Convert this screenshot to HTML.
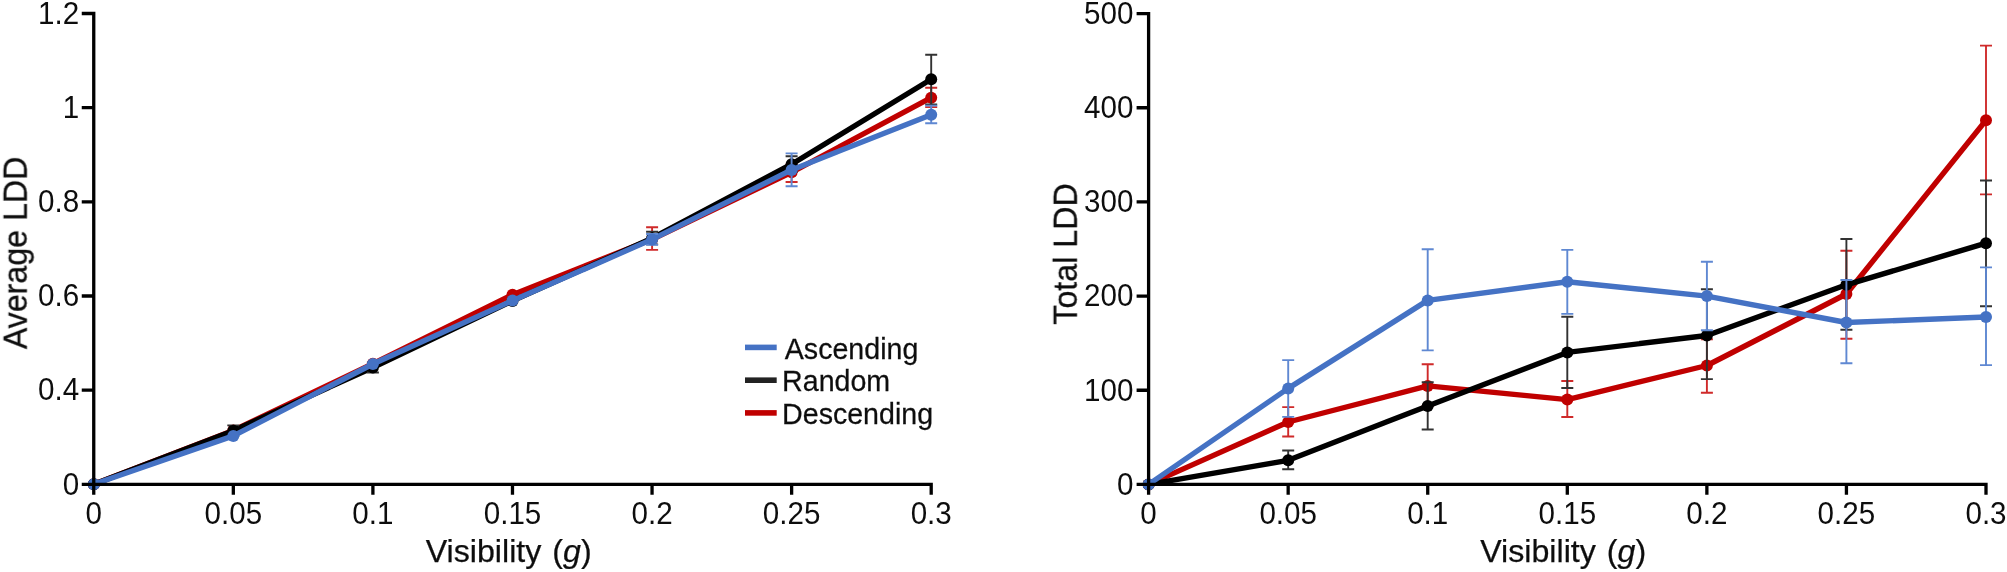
<!DOCTYPE html>
<html lang="en"><head><meta charset="utf-8"><title>LDD vs Visibility</title>
<style>
html,body{margin:0;padding:0;background:#fff;}
body{width:2007px;height:572px;overflow:hidden;}
svg{display:block;font-family:"Liberation Sans",Arial,Helvetica,sans-serif;fill:#111;}
text{stroke:#111;stroke-width:0.25px;}
text.tk{stroke:none;}
</style></head><body>
<svg width="2007" height="572" viewBox="0 0 2007 572">
<defs><filter id="soft" filterUnits="userSpaceOnUse" x="0" y="0" width="2007" height="572"><feGaussianBlur stdDeviation="0.5"/></filter></defs>
<rect width="2007" height="572" fill="#fff"/>
<g filter="url(#soft)">
<path d="M93.8 484.3 L233.3 430.4 L372.9 363.7 L512.5 294.7 L652.1 239.2 L791.6 172.3 L931.2 97.7" fill="none" stroke="#C00000" stroke-width="5.4" stroke-linejoin="round" stroke-linecap="round"/>
<circle cx="93.8" cy="484.3" r="6.0" fill="#C00000"/>
<circle cx="233.3" cy="430.4" r="6.0" fill="#C00000"/>
<circle cx="372.9" cy="363.7" r="6.0" fill="#C00000"/>
<circle cx="512.5" cy="294.7" r="6.0" fill="#C00000"/>
<path d="M652.1 227.3V249.9M646.1 227.3H658.1M646.1 249.9H658.1" fill="none" stroke="#cf2a2a" stroke-width="1.9"/>
<circle cx="652.1" cy="239.2" r="6.0" fill="#C00000"/>
<path d="M791.6 164.4V182.0M785.6 164.4H797.6M785.6 182.0H797.6" fill="none" stroke="#cf2a2a" stroke-width="1.9"/>
<circle cx="791.6" cy="172.3" r="6.0" fill="#C00000"/>
<path d="M931.2 87.8V107.1M925.2 87.8H937.2M925.2 107.1H937.2" fill="none" stroke="#cf2a2a" stroke-width="1.9"/>
<circle cx="931.2" cy="97.7" r="6.0" fill="#C00000"/>
<path d="M93.8 484.3 L233.3 430.7 L372.9 367.5 L512.5 300.9 L652.1 238.2 L791.6 164.2 L931.2 79.3" fill="none" stroke="#000000" stroke-width="5.4" stroke-linejoin="round" stroke-linecap="round"/>
<circle cx="93.8" cy="484.3" r="6.0" fill="#000000"/>
<path d="M233.3 425.4V436.0M227.3 425.4H239.3M227.3 436.0H239.3" fill="none" stroke="#333333" stroke-width="1.9"/>
<circle cx="233.3" cy="430.7" r="6.0" fill="#000000"/>
<path d="M372.9 362.6V372.5M366.9 362.6H378.9M366.9 372.5H378.9" fill="none" stroke="#333333" stroke-width="1.9"/>
<circle cx="372.9" cy="367.5" r="6.0" fill="#000000"/>
<circle cx="512.5" cy="300.9" r="6.0" fill="#000000"/>
<path d="M652.1 231.8V244.4M646.1 231.8H658.1M646.1 244.4H658.1" fill="none" stroke="#333333" stroke-width="1.9"/>
<circle cx="652.1" cy="238.2" r="6.0" fill="#000000"/>
<path d="M791.6 156.3V172.0M785.6 156.3H797.6M785.6 172.0H797.6" fill="none" stroke="#333333" stroke-width="1.9"/>
<circle cx="791.6" cy="164.2" r="6.0" fill="#000000"/>
<path d="M931.2 54.8V104.5M925.2 54.8H937.2M925.2 104.5H937.2" fill="none" stroke="#333333" stroke-width="1.9"/>
<circle cx="931.2" cy="79.3" r="6.0" fill="#000000"/>
<path d="M93.8 484.3 L233.3 435.9 L372.9 364.0 L512.5 300.6 L652.1 239.4 L791.6 169.9 L931.2 114.7" fill="none" stroke="#4472C4" stroke-width="5.4" stroke-linejoin="round" stroke-linecap="round"/>
<circle cx="93.8" cy="484.3" r="6.0" fill="#4472C4"/>
<circle cx="233.3" cy="435.9" r="6.0" fill="#4472C4"/>
<circle cx="372.9" cy="364.0" r="6.0" fill="#4472C4"/>
<circle cx="512.5" cy="300.6" r="6.0" fill="#4472C4"/>
<path d="M652.1 234.0V244.9M646.1 234.0H658.1M646.1 244.9H658.1" fill="none" stroke="#5f88d2" stroke-width="1.9"/>
<circle cx="652.1" cy="239.4" r="6.0" fill="#4472C4"/>
<path d="M791.6 153.4V186.2M785.6 153.4H797.6M785.6 186.2H797.6" fill="none" stroke="#5f88d2" stroke-width="1.9"/>
<circle cx="791.6" cy="169.9" r="6.0" fill="#4472C4"/>
<path d="M931.2 105.6V123.3M925.2 105.6H937.2M925.2 123.3H937.2" fill="none" stroke="#5f88d2" stroke-width="1.9"/>
<circle cx="931.2" cy="114.7" r="6.0" fill="#4472C4"/>
<path d="M93.75 11.85V494.70M81.75 484.30H932.85M81.75 13.50H93.75M81.75 107.66H93.75M81.75 201.82H93.75M81.75 295.98H93.75M81.75 390.14H93.75M233.33 484.30V494.70M372.90 484.30V494.70M512.48 484.30V494.70M652.05 484.30V494.70M791.63 484.30V494.70M931.20 484.30V494.70" fill="none" stroke="#000" stroke-width="3.3"/>
<text transform="translate(79.2 23.8) scale(1 1.065)" text-anchor="end" class="tk" font-size="29.6">1.2</text>
<text transform="translate(79.2 118.0) scale(1 1.065)" text-anchor="end" class="tk" font-size="29.6">1</text>
<text transform="translate(79.2 212.1) scale(1 1.065)" text-anchor="end" class="tk" font-size="29.6">0.8</text>
<text transform="translate(79.2 306.3) scale(1 1.065)" text-anchor="end" class="tk" font-size="29.6">0.6</text>
<text transform="translate(79.2 400.4) scale(1 1.065)" text-anchor="end" class="tk" font-size="29.6">0.4</text>
<text transform="translate(79.2 494.6) scale(1 1.065)" text-anchor="end" class="tk" font-size="29.6">0</text>
<text transform="translate(93.8 523.9) scale(1 1.065)" text-anchor="middle" class="tk" font-size="29.6">0</text>
<text transform="translate(233.3 523.9) scale(1 1.065)" text-anchor="middle" class="tk" font-size="29.6">0.05</text>
<text transform="translate(372.9 523.9) scale(1 1.065)" text-anchor="middle" class="tk" font-size="29.6">0.1</text>
<text transform="translate(512.5 523.9) scale(1 1.065)" text-anchor="middle" class="tk" font-size="29.6">0.15</text>
<text transform="translate(652.1 523.9) scale(1 1.065)" text-anchor="middle" class="tk" font-size="29.6">0.2</text>
<text transform="translate(791.6 523.9) scale(1 1.065)" text-anchor="middle" class="tk" font-size="29.6">0.25</text>
<text transform="translate(931.2 523.9) scale(1 1.065)" text-anchor="middle" class="tk" font-size="29.6">0.3</text>
<text x="425.7" y="561.6" font-size="32.2" word-spacing="2">Visibility (<tspan font-style="italic">g</tspan>)</text>
<text transform="translate(26.9 252.9) rotate(-90) scale(1 1.04)" text-anchor="middle" font-size="32.2">Average LDD</text>
<path d="M745 347.4H776.7" stroke="#4472C4" stroke-width="5.6" fill="none"/>
<text transform="translate(784.8 358.6) scale(1 1.03)" font-size="28.6">Ascending</text>
<path d="M745 380.2H776.7" stroke="#222222" stroke-width="5.6" fill="none"/>
<text transform="translate(782.1 391.4) scale(1 1.03)" font-size="28.6">Random</text>
<path d="M745 412.9H776.7" stroke="#C00000" stroke-width="5.6" fill="none"/>
<text transform="translate(782.1 424.1) scale(1 1.03)" font-size="28.6">Descending</text>
</g>
<g filter="url(#soft)">
<path d="M1148.6 484.4 L1288.2 422.0 L1427.7 385.9 L1567.3 399.6 L1706.9 365.5 L1846.4 294.0 L1986.0 120.3" fill="none" stroke="#C00000" stroke-width="5.4" stroke-linejoin="round" stroke-linecap="round"/>
<circle cx="1148.6" cy="484.4" r="6.0" fill="#C00000"/>
<path d="M1288.2 407.1V436.5M1282.2 407.1H1294.2M1282.2 436.5H1294.2" fill="none" stroke="#cf2a2a" stroke-width="1.9"/>
<circle cx="1288.2" cy="422.0" r="6.0" fill="#C00000"/>
<path d="M1427.7 364.2V406.0M1421.7 364.2H1433.7M1421.7 406.0H1433.7" fill="none" stroke="#cf2a2a" stroke-width="1.9"/>
<circle cx="1427.7" cy="385.9" r="6.0" fill="#C00000"/>
<path d="M1567.3 381.0V417.0M1561.3 381.0H1573.3M1561.3 417.0H1573.3" fill="none" stroke="#cf2a2a" stroke-width="1.9"/>
<circle cx="1567.3" cy="399.6" r="6.0" fill="#C00000"/>
<path d="M1706.9 339.3V392.7M1700.9 339.3H1712.9M1700.9 392.7H1712.9" fill="none" stroke="#cf2a2a" stroke-width="1.9"/>
<circle cx="1706.9" cy="365.5" r="6.0" fill="#C00000"/>
<path d="M1846.4 250.7V338.7M1840.4 250.7H1852.4M1840.4 338.7H1852.4" fill="none" stroke="#cf2a2a" stroke-width="1.9"/>
<circle cx="1846.4" cy="294.0" r="6.0" fill="#C00000"/>
<path d="M1986.0 45.6V194.4M1980.0 45.6H1992.0M1980.0 194.4H1992.0" fill="none" stroke="#cf2a2a" stroke-width="1.9"/>
<circle cx="1986.0" cy="120.3" r="6.0" fill="#C00000"/>
<path d="M1148.6 484.4 L1288.2 460.3 L1427.7 405.9 L1567.3 352.4 L1706.9 335.5 L1846.4 284.8 L1986.0 243.2" fill="none" stroke="#000000" stroke-width="5.4" stroke-linejoin="round" stroke-linecap="round"/>
<circle cx="1148.6" cy="484.4" r="6.0" fill="#000000"/>
<path d="M1288.2 450.5V469.2M1282.2 450.5H1294.2M1282.2 469.2H1294.2" fill="none" stroke="#333333" stroke-width="1.9"/>
<circle cx="1288.2" cy="460.3" r="6.0" fill="#000000"/>
<path d="M1427.7 382.3V429.5M1421.7 382.3H1433.7M1421.7 429.5H1433.7" fill="none" stroke="#333333" stroke-width="1.9"/>
<circle cx="1427.7" cy="405.9" r="6.0" fill="#000000"/>
<path d="M1567.3 316.7V388.0M1561.3 316.7H1573.3M1561.3 388.0H1573.3" fill="none" stroke="#333333" stroke-width="1.9"/>
<circle cx="1567.3" cy="352.4" r="6.0" fill="#000000"/>
<path d="M1706.9 289.3V379.1M1700.9 289.3H1712.9M1700.9 379.1H1712.9" fill="none" stroke="#333333" stroke-width="1.9"/>
<circle cx="1706.9" cy="335.5" r="6.0" fill="#000000"/>
<path d="M1846.4 239.0V329.8M1840.4 239.0H1852.4M1840.4 329.8H1852.4" fill="none" stroke="#333333" stroke-width="1.9"/>
<circle cx="1846.4" cy="284.8" r="6.0" fill="#000000"/>
<path d="M1986.0 180.5V306.3M1980.0 180.5H1992.0M1980.0 306.3H1992.0" fill="none" stroke="#333333" stroke-width="1.9"/>
<circle cx="1986.0" cy="243.2" r="6.0" fill="#000000"/>
<path d="M1148.6 484.4 L1288.2 388.4 L1427.7 300.4 L1567.3 281.7 L1706.9 296.1 L1846.4 322.5 L1986.0 317.0" fill="none" stroke="#4472C4" stroke-width="5.4" stroke-linejoin="round" stroke-linecap="round"/>
<circle cx="1148.6" cy="484.4" r="6.0" fill="#4472C4"/>
<path d="M1288.2 360.1V416.9M1282.2 360.1H1294.2M1282.2 416.9H1294.2" fill="none" stroke="#5f88d2" stroke-width="1.9"/>
<circle cx="1288.2" cy="388.4" r="6.0" fill="#4472C4"/>
<path d="M1427.7 249.2V350.4M1421.7 249.2H1433.7M1421.7 350.4H1433.7" fill="none" stroke="#5f88d2" stroke-width="1.9"/>
<circle cx="1427.7" cy="300.4" r="6.0" fill="#4472C4"/>
<path d="M1567.3 249.9V313.9M1561.3 249.9H1573.3M1561.3 313.9H1573.3" fill="none" stroke="#5f88d2" stroke-width="1.9"/>
<circle cx="1567.3" cy="281.7" r="6.0" fill="#4472C4"/>
<path d="M1706.9 261.7V330.2M1700.9 261.7H1712.9M1700.9 330.2H1712.9" fill="none" stroke="#5f88d2" stroke-width="1.9"/>
<circle cx="1706.9" cy="296.1" r="6.0" fill="#4472C4"/>
<path d="M1846.4 280.0V363.3M1840.4 280.0H1852.4M1840.4 363.3H1852.4" fill="none" stroke="#5f88d2" stroke-width="1.9"/>
<circle cx="1846.4" cy="322.5" r="6.0" fill="#4472C4"/>
<path d="M1986.0 267.4V365.1M1980.0 267.4H1992.0M1980.0 365.1H1992.0" fill="none" stroke="#5f88d2" stroke-width="1.9"/>
<circle cx="1986.0" cy="317.0" r="6.0" fill="#4472C4"/>
<path d="M1148.60 11.95V494.80M1136.60 484.40H1987.65M1136.60 13.60H1148.60M1136.60 107.76H1148.60M1136.60 201.92H1148.60M1136.60 296.08H1148.60M1136.60 390.24H1148.60M1288.17 484.40V494.80M1427.73 484.40V494.80M1567.30 484.40V494.80M1706.87 484.40V494.80M1846.43 484.40V494.80M1986.00 484.40V494.80" fill="none" stroke="#000" stroke-width="3.3"/>
<text transform="translate(1133.4 23.9) scale(1 1.065)" text-anchor="end" class="tk" font-size="29.6">500</text>
<text transform="translate(1133.4 118.1) scale(1 1.065)" text-anchor="end" class="tk" font-size="29.6">400</text>
<text transform="translate(1133.4 212.2) scale(1 1.065)" text-anchor="end" class="tk" font-size="29.6">300</text>
<text transform="translate(1133.4 306.4) scale(1 1.065)" text-anchor="end" class="tk" font-size="29.6">200</text>
<text transform="translate(1133.4 400.5) scale(1 1.065)" text-anchor="end" class="tk" font-size="29.6">100</text>
<text transform="translate(1133.4 494.7) scale(1 1.065)" text-anchor="end" class="tk" font-size="29.6">0</text>
<text transform="translate(1148.6 523.9) scale(1 1.065)" text-anchor="middle" class="tk" font-size="29.6">0</text>
<text transform="translate(1288.2 523.9) scale(1 1.065)" text-anchor="middle" class="tk" font-size="29.6">0.05</text>
<text transform="translate(1427.7 523.9) scale(1 1.065)" text-anchor="middle" class="tk" font-size="29.6">0.1</text>
<text transform="translate(1567.3 523.9) scale(1 1.065)" text-anchor="middle" class="tk" font-size="29.6">0.15</text>
<text transform="translate(1706.9 523.9) scale(1 1.065)" text-anchor="middle" class="tk" font-size="29.6">0.2</text>
<text transform="translate(1846.4 523.9) scale(1 1.065)" text-anchor="middle" class="tk" font-size="29.6">0.25</text>
<text transform="translate(1986.0 523.9) scale(1 1.065)" text-anchor="middle" class="tk" font-size="29.6">0.3</text>
<text x="1480.2" y="561.6" font-size="32.2" word-spacing="2">Visibility (<tspan font-style="italic">g</tspan>)</text>
<text transform="translate(1077.0 254.0) rotate(-90) scale(1 1.04)" text-anchor="middle" font-size="32.2">Total LDD</text>
</g>
</svg>
</body></html>
